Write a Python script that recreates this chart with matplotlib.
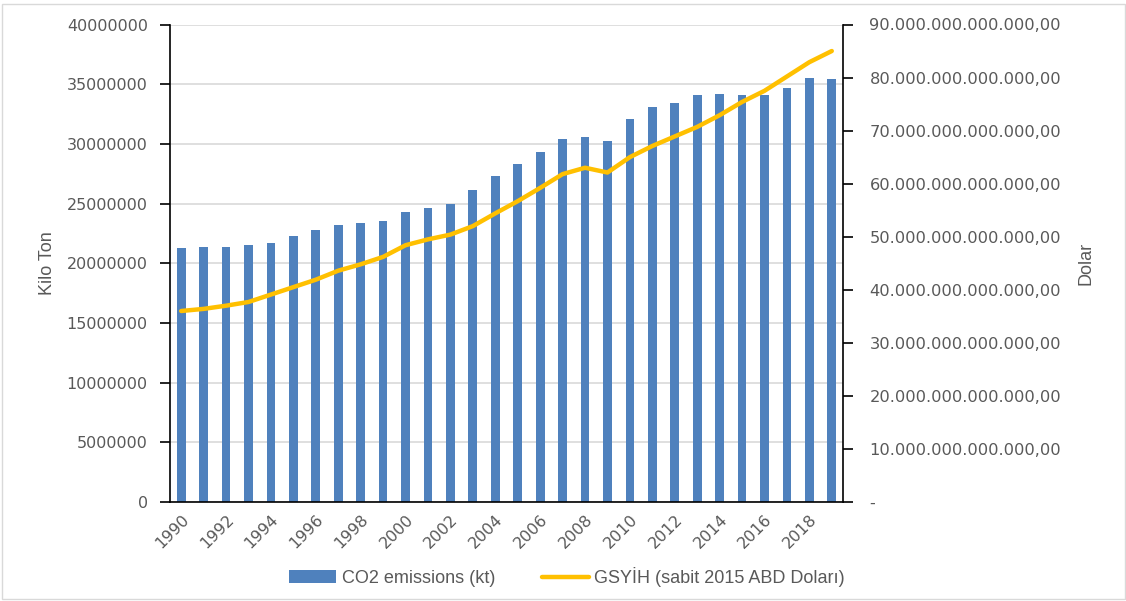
import matplotlib
matplotlib.use("Agg")
import matplotlib.pyplot as plt
from matplotlib.patches import Rectangle
import numpy as np

years = list(range(1990, 2020))
co2_kt = [21280000, 21400000, 21370000, 21500000, 21670000, 22280000, 22760000, 23180000,
          23350000, 23510000, 24270000, 24600000, 25000000, 26100000, 27300000, 28340000,
          29290000, 30430000, 30600000, 30200000, 32100000, 33050000, 33440000, 34100000,
          34200000, 34060000, 34100000, 34670000, 35560000, 35450000]
gdp_usd = [36.0e12, 36.4e12, 37.0e12, 37.7e12, 39.1e12, 40.5e12, 41.9e12, 43.6e12,
           44.8e12, 46.2e12, 48.4e12, 49.5e12, 50.4e12, 52.0e12, 54.4e12, 56.7e12,
           59.2e12, 61.8e12, 63.0e12, 62.1e12, 65.0e12, 67.1e12, 68.9e12, 70.7e12,
           72.9e12, 75.4e12, 77.5e12, 80.2e12, 82.9e12, 85.0e12]

BAR_COLOR = "#4F81BD"
LINE_COLOR = "#FFC000"
TEXT_COLOR = "#595959"
NARROW = ["Liberation Sans Narrow", "Liberation Sans", "DejaVu Sans"]


def tr_format(v, pos=None):
    # Excel style: thousands with dots, decimals with comma, zero as dash
    if v == 0:
        return "-"
    s = f"{v:,.2f}"
    return s.replace(",", "X").replace(".", ",").replace("X", ".")


fig = plt.figure(figsize=(11.26, 6.01), dpi=100)
ax = fig.add_axes([170 / 1126, 1 - 502 / 601, (843 - 170) / 1126, (502 - 24.5) / 601])
x = np.arange(len(years))

bars = ax.bar(x, co2_kt, width=0.39, color=BAR_COLOR, label="CO2 emissions (kt)", zorder=2)
ax.set_xlim(-0.5, len(years) - 0.5)
ax.set_ylim(0, 40000000)
ax.set_yticks(np.arange(0, 40000001, 5000000))
ax.set_yticklabels([f"{int(v)}" for v in ax.get_yticks()])
ax.set_axisbelow(True)
ax.yaxis.grid(True, color="#d9d9d9", linewidth=1.2)

ax.set_xticks(x[::2])
ax.set_xticklabels([str(y) for y in years[::2]], rotation=45, ha="right",
                   rotation_mode="anchor")
ax.tick_params(axis="x", length=0, pad=7, labelsize=11.5, labelcolor=TEXT_COLOR)
ax.tick_params(axis="y", length=7, width=1.2, pad=9, labelsize=11.5, labelcolor=TEXT_COLOR,
               direction="out")
ax.set_ylabel("Kilo Ton", fontsize=13, color=TEXT_COLOR, family=NARROW, labelpad=8)

for s in ["top", "right"]:
    ax.spines[s].set_visible(False)
for s in ["left", "bottom"]:
    ax.spines[s].set_color("black")
    ax.spines[s].set_linewidth(1.2)

ax2 = ax.twinx()
line, = ax2.plot(x, gdp_usd, color=LINE_COLOR, linewidth=3.2,
                 label="GSYİH (sabit 2015 ABD Doları)", solid_capstyle="round", zorder=3)
ax2.set_ylim(0, 90e12)
ax2.set_yticks(np.arange(0, 90e12 + 1, 10e12))
ax2.yaxis.set_major_formatter(plt.FuncFormatter(tr_format))
ax2.tick_params(axis="y", length=7, width=1.2, pad=12, labelsize=11.7, labelcolor=TEXT_COLOR)
ax2.set_ylabel("Dolar", fontsize=13, color=TEXT_COLOR, family=NARROW, labelpad=12)
for s in ["top", "left", "bottom"]:
    ax2.spines[s].set_visible(False)
ax2.spines["right"].set_color("black")
ax2.spines["right"].set_linewidth(1.2)

fig.legend(handles=[bars, line], loc="center", bbox_to_anchor=(567 / 1126, 1 - 577 / 601),
           ncol=2, frameon=False, prop={"family": NARROW, "size": 13},
           handlelength=2.6, columnspacing=2.6, handletextpad=0.3, labelcolor=TEXT_COLOR)

fig.patches.append(Rectangle((0.002, 0.003), 0.997, 0.99, transform=fig.transFigure,
                             fill=False, edgecolor="#d9d9d9", linewidth=1))

fig.savefig("out.png", dpi=100)
